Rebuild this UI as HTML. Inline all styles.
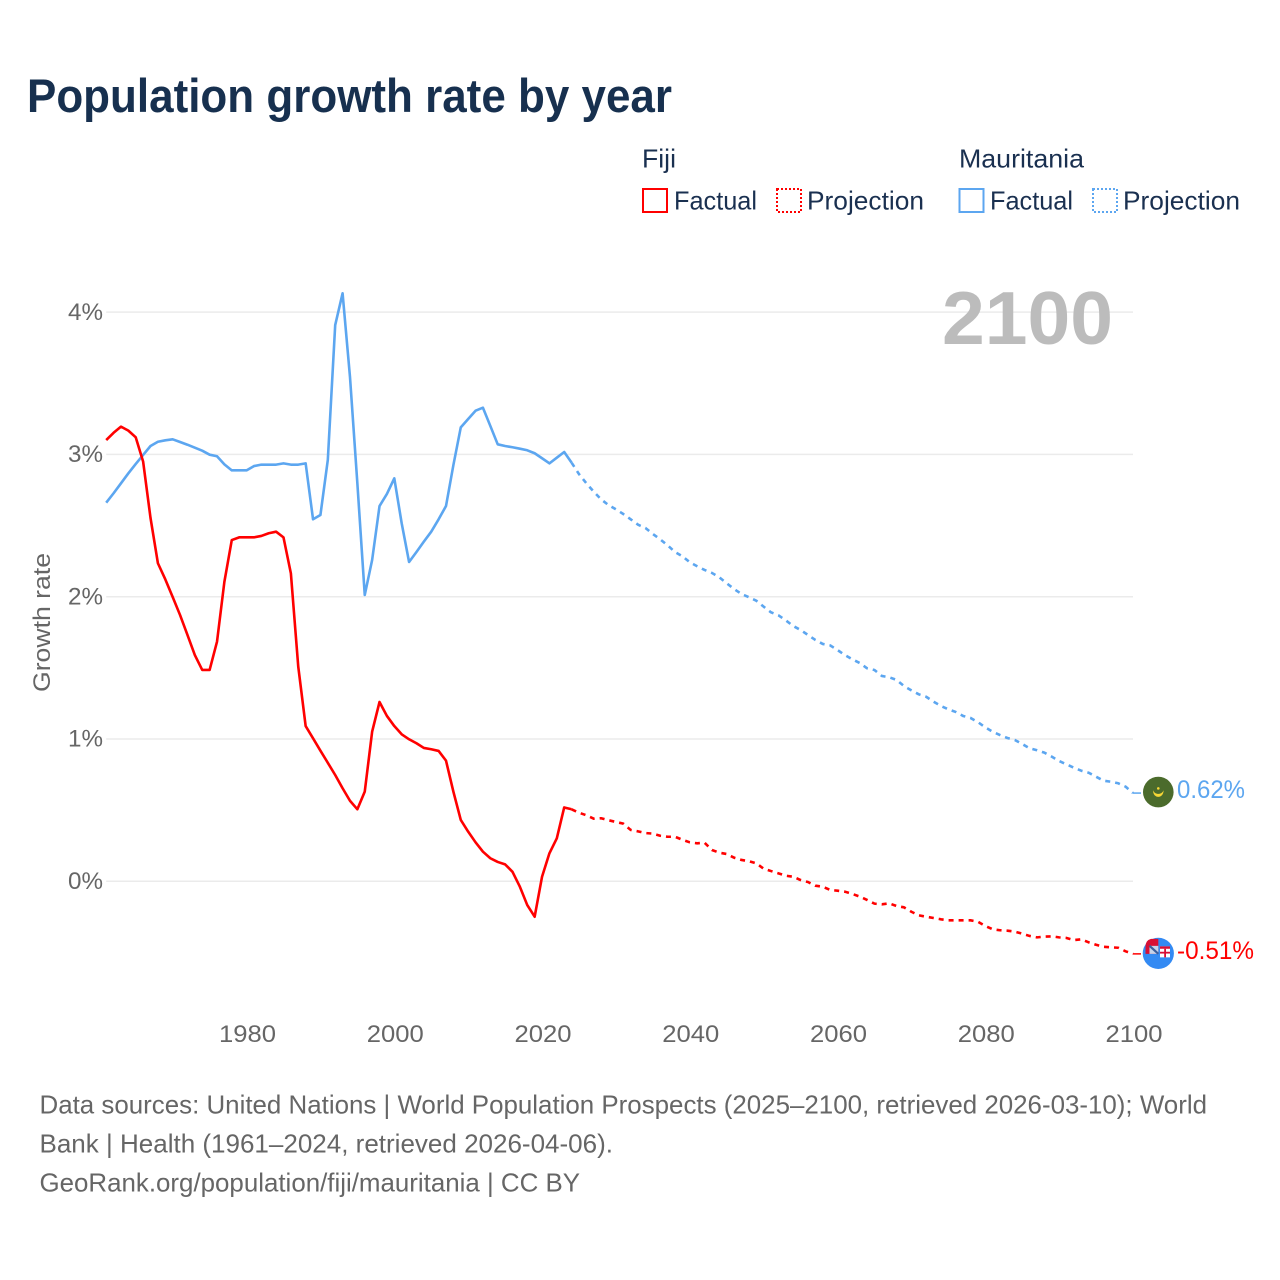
<!DOCTYPE html>
<html lang="en">
<head>
<meta charset="utf-8">
<title>Population growth rate by year</title>
<style>
html,body{margin:0;padding:0;background:#fff;width:1280px;height:1280px;overflow:hidden}
svg{display:block;font-family:"Liberation Sans",sans-serif}
</style>
</head>
<body>
<svg id="chart" xmlns="http://www.w3.org/2000/svg" width="1280" height="1280" viewBox="0 0 1280 1280">
  <rect width="1280" height="1280" fill="#fff"/>
  <text x="27" y="112" font-size="47" font-weight="700" fill="#17304f" textLength="645" lengthAdjust="spacingAndGlyphs">Population growth rate by year</text>

  <g font-size="26" fill="#1a3050">
    <text x="642" y="167.5" textLength="34" lengthAdjust="spacingAndGlyphs">Fiji</text>
    <text x="959" y="167.5" textLength="125" lengthAdjust="spacingAndGlyphs">Mauritania</text>
    <rect x="643" y="189" width="24" height="23" fill="none" stroke="#ff0000" stroke-width="2"/>
    <text x="674" y="209.5" textLength="83" lengthAdjust="spacingAndGlyphs">Factual</text>
    <rect x="777" y="189" width="24" height="23" fill="none" stroke="#ff0000" stroke-width="2" stroke-dasharray="2,2"/>
    <text x="807" y="209.5" textLength="117" lengthAdjust="spacingAndGlyphs">Projection</text>
    <rect x="959.5" y="189" width="24" height="23" fill="none" stroke="#5ca6f0" stroke-width="2"/>
    <text x="990" y="209.5" textLength="83" lengthAdjust="spacingAndGlyphs">Factual</text>
    <rect x="1093" y="189" width="24" height="23" fill="none" stroke="#5ca6f0" stroke-width="2" stroke-dasharray="2,2"/>
    <text x="1123" y="209.5" textLength="117" lengthAdjust="spacingAndGlyphs">Projection</text>
  </g>

  <g id="grid"></g>
  <text x="942" y="344" font-size="75" font-weight="700" fill="#bcbcbc" textLength="171" lengthAdjust="spacingAndGlyphs">2100</text>
  <g id="yticks" font-size="24" fill="#666"></g>
  <g id="xticks" font-size="24" fill="#666"></g>
  <text transform="translate(50,692) rotate(-90)" font-size="24" fill="#666" textLength="139" lengthAdjust="spacingAndGlyphs">Growth rate</text>
  <g id="series"></g>

  <g id="flag-mauritania">
    <circle r="15.3" cx="0.3" fill="#4b6b2c"/>
    <path d="M-5 -2 C-5 7, 5.6 7, 5.6 -2 C4 3, -3.4 3, -5 -2Z" fill="#f7d736"/>
    <circle cx="0.3" cy="-3.7" r="1.3" fill="#f7d736"/>
  </g>
  <g id="flag-fiji">
    <circle r="15.6" cx="0.3" fill="#338af3"/>
    <path d="M0.3 -14.5 L-7 -14.5 Q-12.5 -13 -12.5 -7 L-12.5 0.5 L0.3 0.5Z" fill="#d80f35"/>
    <rect x="-8.5" y="-7.5" width="8.8" height="8" fill="#c6d4ea"/>
    <path d="M-8.5 -7.5 L0.3 0.5" stroke="#3a5f9e" stroke-width="2.2"/>
    <rect x="2" y="-7" width="10" height="11" fill="#fff"/>
    <rect x="2" y="-7" width="10" height="2.4" fill="#d80f35"/>
    <rect x="6.2" y="-4.6" width="1.8" height="8.6" fill="#d80f35"/>
    <rect x="2" y="-1.6" width="10" height="1.8" fill="#d80f35"/>
  </g>

  <g id="end-labels" font-size="25"></g>

  <g font-size="26" fill="#666">
    <text x="39.5" y="1113.5" textLength="1167.5" lengthAdjust="spacingAndGlyphs">Data sources: United Nations | World Population Prospects (2025–2100, retrieved 2026-03-10); World</text>
    <text x="39.5" y="1152.5" textLength="573.5" lengthAdjust="spacingAndGlyphs">Bank | Health (1961–2024, retrieved 2026-04-06).</text>
    <a><text x="39.5" y="1191.5" textLength="540.5" lengthAdjust="spacingAndGlyphs">GeoRank.org/population/fiji/mauritania | CC BY</text></a>
  </g>
</svg>
<script>
const yTicks = [0, 1, 2, 3, 4];
const xTicks = [1980, 2000, 2020, 2040, 2060, 2080, 2100];
const firstFactualYear = 1961;
const firstProjectionYear = 2024;

const fijiFactual = [3.101,3.152,3.195,3.167,3.120,2.949,2.553,2.235,2.122,1.998,1.871,1.731,1.590,1.485,1.485,1.684,2.105,2.398,2.417,2.417,2.417,2.427,2.446,2.457,2.417,2.164,1.508,1.091,1.005,0.918,0.833,0.747,0.654,0.566,0.506,0.630,1.051,1.260,1.162,1.091,1.033,0.998,0.970,0.937,0.928,0.916,0.848,0.630,0.431,0.349,0.274,0.208,0.162,0.136,0.119,0.067,-0.038,-0.167,-0.249,0.032,0.197,0.302,0.519,0.506];
const fijiProjection = [0.506,0.482,0.464,0.440,0.443,0.429,0.417,0.405,0.361,0.351,0.339,0.335,0.320,0.313,0.313,0.292,0.274,0.267,0.271,0.220,0.201,0.192,0.166,0.150,0.141,0.126,0.089,0.072,0.056,0.039,0.032,0.009,-0.005,-0.031,-0.038,-0.061,-0.066,-0.073,-0.089,-0.107,-0.131,-0.157,-0.162,-0.155,-0.174,-0.183,-0.214,-0.239,-0.249,-0.258,-0.267,-0.274,-0.274,-0.274,-0.274,-0.284,-0.314,-0.337,-0.344,-0.347,-0.354,-0.368,-0.384,-0.394,-0.389,-0.387,-0.394,-0.398,-0.413,-0.408,-0.429,-0.446,-0.460,-0.464,-0.467,-0.492,-0.510];

const mauritaniaFactual = [2.661,2.727,2.797,2.867,2.933,2.996,3.059,3.089,3.099,3.106,3.087,3.068,3.047,3.026,2.998,2.987,2.930,2.888,2.888,2.888,2.918,2.928,2.928,2.928,2.937,2.928,2.928,2.937,2.544,2.574,2.961,3.909,4.132,3.546,2.797,2.012,2.258,2.637,2.722,2.832,2.516,2.244,2.314,2.387,2.457,2.544,2.637,2.925,3.190,3.249,3.307,3.328,3.200,3.071,3.059,3.050,3.040,3.029,3.008,2.973,2.937,2.977,3.017,2.942];
const mauritaniaProjection = [2.942,2.862,2.797,2.738,2.684,2.644,2.614,2.581,2.544,2.506,2.483,2.441,2.403,2.361,2.314,2.284,2.242,2.214,2.188,2.167,2.136,2.094,2.054,2.019,1.996,1.972,1.930,1.890,1.869,1.834,1.794,1.766,1.731,1.696,1.668,1.658,1.625,1.590,1.560,1.534,1.497,1.485,1.443,1.434,1.415,1.372,1.342,1.314,1.297,1.262,1.232,1.209,1.190,1.162,1.148,1.119,1.082,1.051,1.028,1.007,0.993,0.965,0.935,0.921,0.904,0.876,0.845,0.822,0.798,0.777,0.763,0.735,0.707,0.700,0.689,0.665,0.620];

const NS = 'http://www.w3.org/2000/svg';
const plotLeft = 106.2, plotRight = 1133;
const FIJI_COLOR = '#ff0000', MAU_COLOR = '#5ca6f0';

function xScale(year) { return plotLeft + (year - 1961) * (plotRight - plotLeft) / (2100 - 1961); }
function yScale(v) { return 881.3 - v * 142.3; }

function make(tag, attrs, text) {
  const el = document.createElementNS(NS, tag);
  for (const k in attrs) el.setAttribute(k, attrs[k]);
  if (text !== undefined) el.textContent = text;
  return el;
}
function pathFrom(values, startYear) {
  return values.map((v, i) => (i ? 'L' : 'M') + xScale(startYear + i).toFixed(2) + ' ' + yScale(v).toFixed(2)).join(' ');
}

const gridG = document.getElementById('grid');
const yG = document.getElementById('yticks');
yTicks.forEach(t => {
  const line = make('line', {x1: plotLeft, x2: plotRight, y1: yScale(t), y2: yScale(t), stroke: '#ebebeb', 'stroke-width': 1.5});
  
  
  gridG.appendChild(line);
  const label = make('text', {x: 103, y: yScale(t) + 7.7, 'text-anchor': 'end', textLength: 35, lengthAdjust: 'spacingAndGlyphs'}, t + '%');
  
  
  yG.appendChild(label);
});

const xG = document.getElementById('xticks');
xTicks.forEach(t => {
  const label = make('text', {x: xScale(t) + 1, y: 1042, 'text-anchor': 'middle', textLength: 57, lengthAdjust: 'spacingAndGlyphs'}, String(t));
  
  
  xG.appendChild(label);
});

const seriesG = document.getElementById('series');
function addLine(values, startYear, color, dashed, name) {
  const attrs = {d: pathFrom(values, startYear), fill: 'none', stroke: color, 'stroke-width': 2.6, 'stroke-linejoin': 'round'};
  if (dashed) attrs['stroke-dasharray'] = '5,5';
  const p = make('path', attrs);
  
  
  seriesG.appendChild(p);
}
function addLeader(value, color, name) {
  const y = yScale(value);
  const l = make('line', {x1: plotRight, x2: plotRight + 8, y1: y, y2: y, stroke: color, 'stroke-width': 1.5});
  
  
  seriesG.appendChild(l);
}
addLine(mauritaniaFactual, firstFactualYear, MAU_COLOR, false, 'line-mauritania-factual');
addLine(mauritaniaProjection, firstProjectionYear, MAU_COLOR, true, 'line-mauritania-projection');
addLine(fijiFactual, firstFactualYear, FIJI_COLOR, false, 'line-fiji-factual');
addLine(fijiProjection, firstProjectionYear, FIJI_COLOR, true, 'line-fiji-projection');

const fijiLast = fijiProjection[fijiProjection.length - 1];
const mauLast = mauritaniaProjection[mauritaniaProjection.length - 1];
addLeader(mauLast, MAU_COLOR, 'leader-mauritania');
addLeader(fijiLast, FIJI_COLOR, 'leader-fiji');

document.getElementById('flag-mauritania').setAttribute('transform', 'translate(1158,' + (yScale(mauLast) - 1).toFixed(2) + ')');
document.getElementById('flag-fiji').setAttribute('transform', 'translate(1158,' + (yScale(fijiLast) - 0.5).toFixed(2) + ')');

const endG = document.getElementById('end-labels');
const mauLabel = make('text', {x: 1177, y: yScale(mauLast) + 5, fill: MAU_COLOR, textLength: 68, lengthAdjust: 'spacingAndGlyphs'}, mauLast.toFixed(2) + '%');


endG.appendChild(mauLabel);
const fijiLabel = make('text', {x: 1177, y: yScale(fijiLast) + 5, fill: FIJI_COLOR, textLength: 77, lengthAdjust: 'spacingAndGlyphs'}, fijiLast.toFixed(2) + '%');


endG.appendChild(fijiLabel);
</script>
</body>
</html>
